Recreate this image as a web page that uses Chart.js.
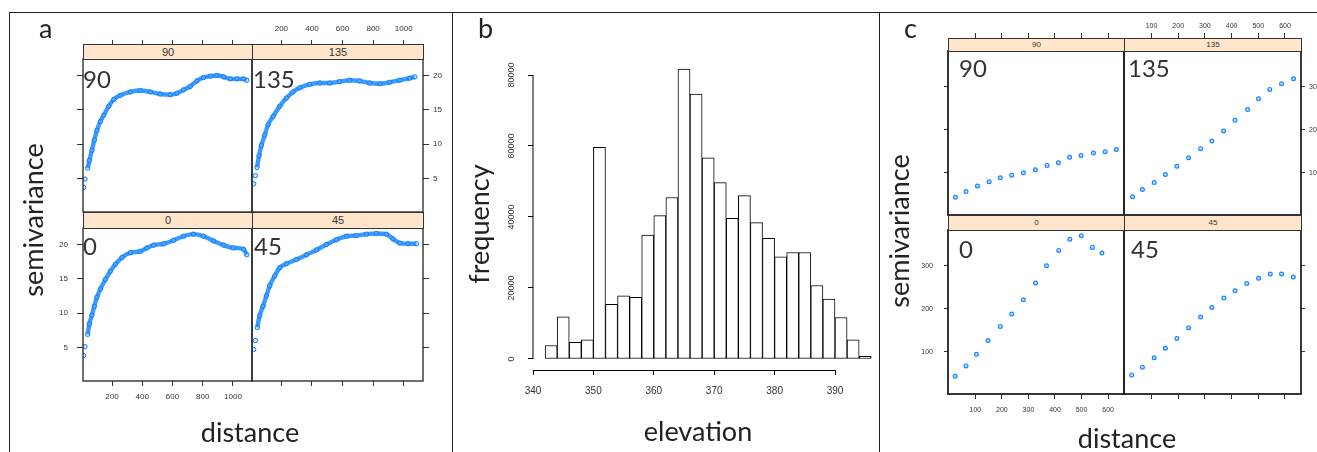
<!DOCTYPE html>
<html lang="en">
<head>
<meta charset="UTF-8" />
<title>semivariance and elevation</title>
<script src="https://cdn.jsdelivr.net/npm/chart.js"></script>
<style>
  body { margin: 0; overflow: hidden; background: #fff; }
  #stage { position: relative; width: 1317px; height: 452px; font-family: Lato, sans-serif; color: #333; overflow: hidden; }
  canvas { position: absolute; }
  .rule { position: absolute; background: #222; }
  .strip { position: absolute; box-sizing: border-box; border: 1px solid #333; background: #ffe5cc; font-family: "Liberation Sans", sans-serif; text-align: center; color: #333; }
  .big { position: absolute; font-size: 24px; line-height: 24px; color: #333; white-space: nowrap; }
  .title { position: absolute; font-size: 27px; line-height: 27px; color: #222; white-space: nowrap; }
</style>
</head>
<body>
<div id="stage"></div>
<script>
// ---- panel a : semivariance vs distance, dense empirical variograms
const a90Dist = [12, 21, 39, 50, 67, 83, 100, 123, 145, 178, 211, 255, 321, 387, 453, 519, 585, 629, 673, 717, 761, 805, 850, 894, 938, 982, 1026, 1070, 1092];
const a90Gamma = [3.7, 4.9, 6.5, 7.6, 9.1, 10.6, 12.0, 13.3, 14.2, 15.5, 16.5, 17.1, 17.6, 17.8, 17.6, 17.3, 17.2, 17.4, 17.9, 18.4, 19.2, 19.7, 19.9, 20.0, 19.8, 19.5, 19.5, 19.5, 19.3];
const a135Dist = [19, 30, 41, 54, 69, 91, 113, 145, 189, 233, 276, 320, 385, 451, 516, 581, 647, 712, 777, 843, 908, 974, 1039, 1072];
const a135Gamma = [4.2, 5.4, 6.6, 8.3, 9.8, 11.3, 12.8, 14.0, 15.5, 16.7, 17.6, 18.2, 18.7, 18.9, 18.9, 19.1, 19.3, 19.2, 18.9, 18.8, 19.0, 19.3, 19.6, 19.8];
const a0Dist = [12, 21, 39, 50, 67, 83, 100, 123, 156, 189, 222, 266, 321, 387, 431, 475, 541, 607, 673, 739, 805, 872, 938, 1004, 1070, 1092];
const a0Gamma = [3.8, 5.1, 6.9, 8.4, 9.7, 11.0, 12.3, 13.5, 14.9, 16.1, 17.1, 18.1, 18.8, 19.0, 19.5, 19.9, 20.1, 20.6, 21.2, 21.5, 21.2, 20.5, 19.9, 19.5, 19.3, 18.5];
const a45Dist = [19, 30, 43, 58, 80, 102, 124, 156, 189, 233, 298, 364, 429, 494, 560, 625, 690, 756, 821, 886, 930, 974, 1028, 1083];
const a45Gamma = [4.7, 6.0, 7.9, 9.6, 11.0, 12.5, 14.0, 15.4, 16.6, 17.2, 17.8, 18.5, 19.2, 20.0, 20.7, 21.2, 21.3, 21.5, 21.6, 21.5, 20.8, 20.2, 20.1, 20.1];
const aDistTicks = [200, 400, 600, 800, 1000];
const aGammaTicks = [5, 10, 15, 20];

// ---- panel b : histogram of elevation (2 m bins)
const elevMid = [343, 345, 347, 349, 351, 353, 355, 357, 359, 361, 363, 365, 367, 369, 371, 373, 375, 377, 379, 381, 383, 385, 387, 389, 391, 393, 395];
const elevCount = [3800, 11900, 4700, 5400, 59600, 15400, 17800, 17400, 34900, 40400, 45500, 81700, 74600, 56700, 49700, 39600, 46000, 38400, 34000, 28800, 30000, 30000, 20700, 16900, 11700, 5400, 750];
const elevTicks = [340, 350, 360, 370, 380, 390];
const freqTicks = [0, 20000, 40000, 60000, 80000];

// ---- panel c : semivariance vs distance, binned variograms
const c90Dist = [25, 65, 108, 152, 194, 237, 281, 326, 370, 413, 455, 498, 545, 589, 631];
const c90Gamma = [43, 56, 69, 79, 88, 94, 100, 107, 117, 123, 136, 140, 146, 149, 154];
const c135Dist = [29, 66, 110, 152, 195, 239, 284, 326, 370, 413, 460, 501, 543, 587, 632];
const c135Gamma = [44, 61, 77, 96, 115, 135, 156, 174, 197, 222, 247, 272, 294, 307, 319];
const c0Dist = [24, 65, 104, 148, 194, 237, 281, 327, 368, 414, 456, 499, 541, 577];
const c0Gamma = [43, 67, 94, 126, 159, 188, 221, 260, 300, 336, 362, 370, 343, 330];
const c45Dist = [26, 66, 110, 152, 195, 239, 284, 326, 371, 413, 457, 501, 545, 587, 631];
const c45Gamma = [46, 64, 86, 108, 131, 156, 181, 203, 225, 242, 259, 271, 281, 281, 274];
const cDistTicks = [100, 200, 300, 400, 500, 600];
const cGammaTicks = [100, 200, 300];

Chart.defaults.font.family = "'Liberation Sans', Arial, sans-serif";
Chart.defaults.color = '#333';

const stage = document.getElementById('stage');

function put(cls, text, css) {
  const d = document.createElement('div');
  d.className = cls;
  d.textContent = text;
  Object.assign(d.style, css);
  stage.appendChild(d);
  return d;
}

// box around each lattice panel
const framePlugin = {
  id: 'frame',
  afterDraw(chart, args, opts) {
    const { ctx, chartArea: a } = chart;
    ctx.save();
    ctx.strokeStyle = '#222';
    ctx.lineWidth = opts.lw || 1.3;
    ctx.strokeRect(a.left, a.top, a.right - a.left, a.bottom - a.top);
    ctx.restore();
  }
};

function lattice(cfg) {
  const M = 45;
  const [l, t, r, b] = cfg.box;
  const cv = document.createElement('canvas');
  cv.width = r - l + 2 * M;
  cv.height = b - t + 2 * M;
  cv.style.left = (l - M) + 'px';
  cv.style.top = (t - M) + 'px';
  stage.appendChild(cv);

  const st = cfg.style;
  const ds = {
    data: cfg.xs.map((x, i) => ({ x: x, y: cfg.ys[i] })),
    pointStyle: 'circle',
    pointRadius: st.r,
    pointBorderWidth: st.pbw,
    pointBorderColor: st.pc,
    pointBackgroundColor: st.pfill,
    showLine: !!st.line,
    borderColor: st.line || 'transparent',
    borderWidth: st.lw || 0,
    cubicInterpolationMode: 'monotone'
  };
  if (st.line) {
    ds.segment = { borderColor: c => (c.p0DataIndex < st.gap ? 'rgba(0,0,0,0)' : st.line) };
  }

  return new Chart(cv, {
    type: 'scatter',
    data: { datasets: [ds] },
    options: {
      responsive: false,
      animation: false,
      events: [],
      layout: {
        autoPadding: false,
        padding: {
          left: cfg.yPos === 'left' ? 0 : M,
          right: cfg.yPos === 'right' ? 0 : M,
          top: cfg.xPos === 'top' ? 0 : M,
          bottom: cfg.xPos === 'bottom' ? 0 : M
        }
      },
      plugins: { legend: { display: false }, tooltip: { enabled: false }, frame: { lw: cfg.frameW } },
      scales: {
        x: {
          type: 'linear',
          position: cfg.xPos,
          min: cfg.xMin,
          max: cfg.xMax,
          afterFit: s => { s.height = M; },
          afterBuildTicks: s => { s.ticks = cfg.xTicks.map(v => ({ value: v })); },
          border: { display: false },
          grid: { drawOnChartArea: false, tickLength: cfg.xTickLen, color: '#333' },
          ticks: {
            autoSkip: false, maxRotation: 0,
            font: { size: cfg.tickSize }, padding: cfg.xPos === 'top' ? cfg.padTop : cfg.padBottom,
            callback: v => (cfg.xLab ? v : '')
          }
        },
        y: {
          type: 'linear',
          position: cfg.yPos,
          min: cfg.yMin,
          max: cfg.yMax,
          afterFit: s => { s.width = M; },
          afterBuildTicks: s => { s.ticks = cfg.yTicks.map(v => ({ value: v })); },
          border: { display: false },
          grid: { drawOnChartArea: false, tickLength: cfg.yTickLen, color: '#333' },
          ticks: {
            autoSkip: false,
            font: { size: cfg.tickSize }, padding: cfg.yPos === 'left' ? cfg.padLeft : cfg.padRight,
            callback: v => (cfg.yLab ? v : '')
          }
        }
      }
    },
    plugins: [framePlugin]
  });
}

// ---------- panel a
const aStyle = { r: 2.2, pbw: 1, pc: '#0a7dff', pfill: 'rgba(120,185,255,0.35)', line: 'rgba(25,135,255,0.85)', lw: 4.4, gap: 2 };
const aBase = {
  xMin: 8, xMax: 1126, yMin: 0.1, yMax: 22.4, xTicks: aDistTicks, yTicks: aGammaTicks,
  tickSize: 8, yTickLen: 6, padTop: 6, padBottom: 6, padLeft: 9, padRight: 4, frameW: 1.3, style: aStyle
};
lattice(Object.assign({}, aBase, { box: [83, 59, 252, 212], xs: a90Dist, ys: a90Gamma, xPos: 'top', xLab: false, yPos: 'left', yLab: false, xTickLen: 19 }));
lattice(Object.assign({}, aBase, { box: [252, 59, 423, 212], xs: a135Dist, ys: a135Gamma, xPos: 'top', xLab: true, yPos: 'right', yLab: true, xTickLen: 19 }));
lattice(Object.assign({}, aBase, { box: [83, 228, 252, 381], xs: a0Dist, ys: a0Gamma, xPos: 'bottom', xLab: true, yPos: 'left', yLab: true, xTickLen: 5 }));
lattice(Object.assign({}, aBase, { box: [252, 228, 423, 381], xs: a45Dist, ys: a45Gamma, xPos: 'bottom', xLab: false, yPos: 'right', yLab: false, xTickLen: 5 }));

// ---------- panel c
const cStyle = { r: 1.9, pbw: 1.2, pc: '#1a86ff', pfill: 'rgba(150,200,255,0.6)' };
const cBase = {
  xMin: -3, xMax: 660, yMin: 1.5, yMax: 383.5, xTicks: cDistTicks, yTicks: cGammaTicks,
  tickSize: 7, yTickLen: 4, padTop: 3, padBottom: 7, padLeft: 11, padRight: 4, frameW: 1.8, style: cStyle
};
lattice(Object.assign({}, cBase, { box: [948, 51, 1124, 215], xs: c90Dist, ys: c90Gamma, xPos: 'top', xLab: false, yPos: 'left', yLab: false, xTickLen: 18 }));
lattice(Object.assign({}, cBase, { box: [1124, 51, 1301, 215], xs: c135Dist, ys: c135Gamma, xPos: 'top', xLab: true, yPos: 'right', yLab: true, xTickLen: 18 }));
lattice(Object.assign({}, cBase, { box: [948, 230, 1124, 394], xs: c0Dist, ys: c0Gamma, xPos: 'bottom', xLab: true, yPos: 'left', yLab: true, xTickLen: 5 }));
lattice(Object.assign({}, cBase, { box: [1124, 230, 1301, 394], xs: c45Dist, ys: c45Gamma, xPos: 'bottom', xLab: false, yPos: 'right', yLab: false, xTickLen: 5 }));

// ---------- panel b : histogram
const rYAxisLine = {
  id: 'rYAxisLine',
  afterDraw(chart) {
    const { ctx, chartArea: a, scales } = chart;
    ctx.save();
    ctx.strokeStyle = '#000';
    ctx.lineWidth = 1;
    ctx.beginPath();
    ctx.moveTo(a.left, scales.y.getPixelForValue(freqTicks[0]));
    ctx.lineTo(a.left, scales.y.getPixelForValue(freqTicks[freqTicks.length - 1]));
    ctx.stroke();
    ctx.restore();
  }
};

const cvB = document.createElement('canvas');
cvB.width = 423; cvB.height = 439;
cvB.style.left = '455px'; cvB.style.top = '13px';
stage.appendChild(cvB);
new Chart(cvB, {
  type: 'bar',
  data: {
    datasets: [{
      data: elevMid.map((x, i) => ({ x: x, y: elevCount[i] })),
      backgroundColor: '#fff',
      borderColor: '#000',
      borderWidth: 1,
      borderSkipped: false,
      barPercentage: 1,
      categoryPercentage: 1,
      clip: false
    }]
  },
  options: {
    responsive: false,
    animation: false,
    events: [],
    layout: { autoPadding: false, padding: { top: 62, right: 43, left: 0, bottom: 0 } },
    plugins: { legend: { display: false }, tooltip: { enabled: false } },
    scales: {
      x: {
        type: 'linear', offset: false, min: 340, max: 390,
        afterFit: s => { s.height = 82; },
        afterBuildTicks: s => { s.ticks = elevTicks.map(v => ({ value: v })); },
        border: { display: true, color: '#000', width: 1 },
        grid: { offset: false, drawOnChartArea: false, tickLength: 5, color: '#000' },
        ticks: { autoSkip: false, maxRotation: 0, font: { size: 10 }, padding: 10 }
      },
      y: {
        type: 'linear', min: -3100, max: 80000,
        afterFit: s => { s.width = 78; },
        afterBuildTicks: s => { s.ticks = freqTicks.map(v => ({ value: v })); },
        border: { display: false },
        grid: { drawOnChartArea: false, tickLength: 5, color: '#000' },
        ticks: { autoSkip: false, minRotation: 90, maxRotation: 90, crossAlign: 'center', font: { size: 9 }, padding: 4, callback: v => v }
      }
    }
  },
  plugins: [rYAxisLine]
});

// ---------- strips, in-panel labels, titles, figure rules
const strips = [
  ['90', 83, 44, 170, 16, 11], ['135', 252, 44, 172, 16, 11],
  ['0', 83, 212, 170, 17, 11], ['45', 252, 212, 172, 17, 11],
  ['90', 948, 38, 177, 14, 8], ['135', 1124, 38, 178, 14, 8],
  ['0', 948, 215, 177, 16, 8], ['45', 1124, 215, 178, 16, 8]
];
strips.forEach(([txt, x, y, w, h, fs]) => {
  put('strip', txt, { left: x + 'px', top: y + 'px', width: w + 'px', height: h + 'px', fontSize: fs + 'px', lineHeight: (h - 2) + 'px' });
});

[['90', 83, 67], ['135', 253, 67], ['0', 83, 234], ['45', 254, 234],
 ['90', 959, 56], ['135', 1128, 56], ['0', 959, 237], ['45', 1131, 237]].forEach(([txt, x, y]) => {
  put('big', txt, { left: x + 'px', top: y + 'px' });
});

put('title', 'a', { left: '39px', top: '14px' });
put('title', 'b', { left: '478px', top: '14px' });
put('title', 'c', { left: '904px', top: '14px' });

put('title', 'distance', { left: '250px', top: '418px', transform: 'translateX(-50%)' });
put('title', 'elevation', { left: '698px', top: '417px', transform: 'translateX(-50%)' });
put('title', 'distance', { left: '1127px', top: '424px', transform: 'translateX(-50%)' });

put('title', 'semivariance', { left: '32px', top: '220px', transform: 'translate(-50%, -50%) rotate(-90deg)' });
put('title', 'frequency', { left: '478px', top: '224px', transform: 'translate(-50%, -50%) rotate(-90deg)' });
put('title', 'semivariance', { left: '898px', top: '231px', transform: 'translate(-50%, -50%) rotate(-90deg)' });

[[9, 12, 1308, 1], [9, 12, 1, 440], [452, 12, 1, 440], [879, 12, 1, 440]].forEach(([x, y, w, h]) => {
  put('rule', '', { left: x + 'px', top: y + 'px', width: w + 'px', height: h + 'px' });
});
</script>
</body>
</html>
